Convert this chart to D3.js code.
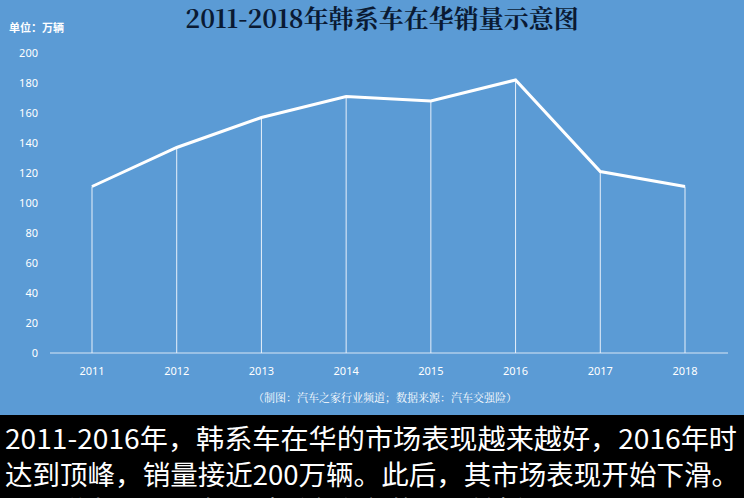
<!DOCTYPE html>
<html><head><meta charset="utf-8">
<script src="https://cdn.jsdelivr.net/npm/d3@7"></script>
<style>body{margin:0;background:#000}</style>
</head><body><div id="chart"></div>
<script>
"use strict";
const years = ["2011","2012","2013","2014","2015","2016","2017","2018"];
const sales = [111, 137, 157, 171, 168, 182, 121, 111];
const yTicks = [0, 20, 40, 60, 80, 100, 120, 140, 160, 180, 200];
const captionLines = [
  "2011-2016年，韩系车在华的市场表现越来越好，2016年时",
  "达到顶峰，销量接近200万辆。此后，其市场表现开始下滑。",
  "可以说为，2016年是韩系车在华的一个转折点。"
];
const captionWidths = [732, 734, null];

const W = 744, H = 498;
const svg = d3.select("#chart").append("svg").attr("width", W).attr("height", H);
svg.append("rect").attr("width", W).attr("height", 415).attr("fill", "#5b9bd5");
svg.append("rect").attr("y", 415).attr("width", W).attr("height", H - 415).attr("fill", "#000");

const x = d3.scalePoint().domain(years).range([92, 685]);
const y = d3.scaleLinear().domain([0, 200]).range([353, 53]);

svg.append("text").attr("x", 382).attr("y", 28).attr("text-anchor", "middle")
  .attr("font-family", "Noto Serif CJK SC, Noto Sans CJK SC, serif").attr("font-size", 25)
  .attr("font-weight", "bold").attr("fill", "#0a1a33").text("2011-2018年韩系车在华销量示意图");
svg.append("text").attr("x", 9).attr("y", 32).attr("font-family", "Noto Sans CJK SC")
  .attr("font-size", 11).attr("font-weight", "bold").attr("fill", "#fff").text("单位：万辆");

svg.append("g").selectAll("text").data(yTicks).join("text")
  .attr("x", 38).attr("y", d => y(d)).attr("dy", "0.35em").attr("text-anchor", "end")
  .attr("font-family", "Noto Sans").attr("font-size", 11).attr("fill", "#fff").text(d => d);

svg.append("line").attr("x1", 50).attr("x2", 728).attr("y1", y(0)).attr("y2", y(0))
  .attr("stroke", "#d9e6f5").attr("stroke-width", 1);

svg.append("g").selectAll("text").data(years).join("text")
  .attr("x", d => x(d)).attr("y", 375).attr("text-anchor", "middle")
  .attr("font-family", "Noto Sans").attr("font-size", 11).attr("fill", "#fff").text(d => d);

svg.append("g").selectAll("line").data(years).join("line")
  .attr("x1", d => x(d)).attr("x2", d => x(d))
  .attr("y1", (d, i) => y(sales[i])).attr("y2", y(0))
  .attr("stroke", "#e8f0fa").attr("stroke-width", 1);

svg.append("path").datum(sales)
  .attr("d", d3.line().x((d, i) => x(years[i])).y(d => y(d)))
  .attr("fill", "none").attr("stroke", "#fff").attr("stroke-width", 3);

svg.append("text").attr("x", 385).attr("y", 402).attr("text-anchor", "middle")
  .attr("font-family", "Noto Serif CJK SC, Noto Sans CJK SC").attr("font-size", 11)
  .attr("fill", "#fff").text("（制图：汽车之家行业频道；数据来源：汽车交强险）");

svg.append("g").selectAll("text").data(captionLines).join("text")
  .attr("x", 5).attr("y", (d, i) => 449 + i * 36)
  .attr("font-family", "Noto Sans CJK SC").attr("font-size", 27)
  .attr("textLength", (d, i) => captionWidths[i])
  .attr("lengthAdjust", "spacingAndGlyphs")
  .attr("fill", "#fff").text(d => d);
</script></body></html>
